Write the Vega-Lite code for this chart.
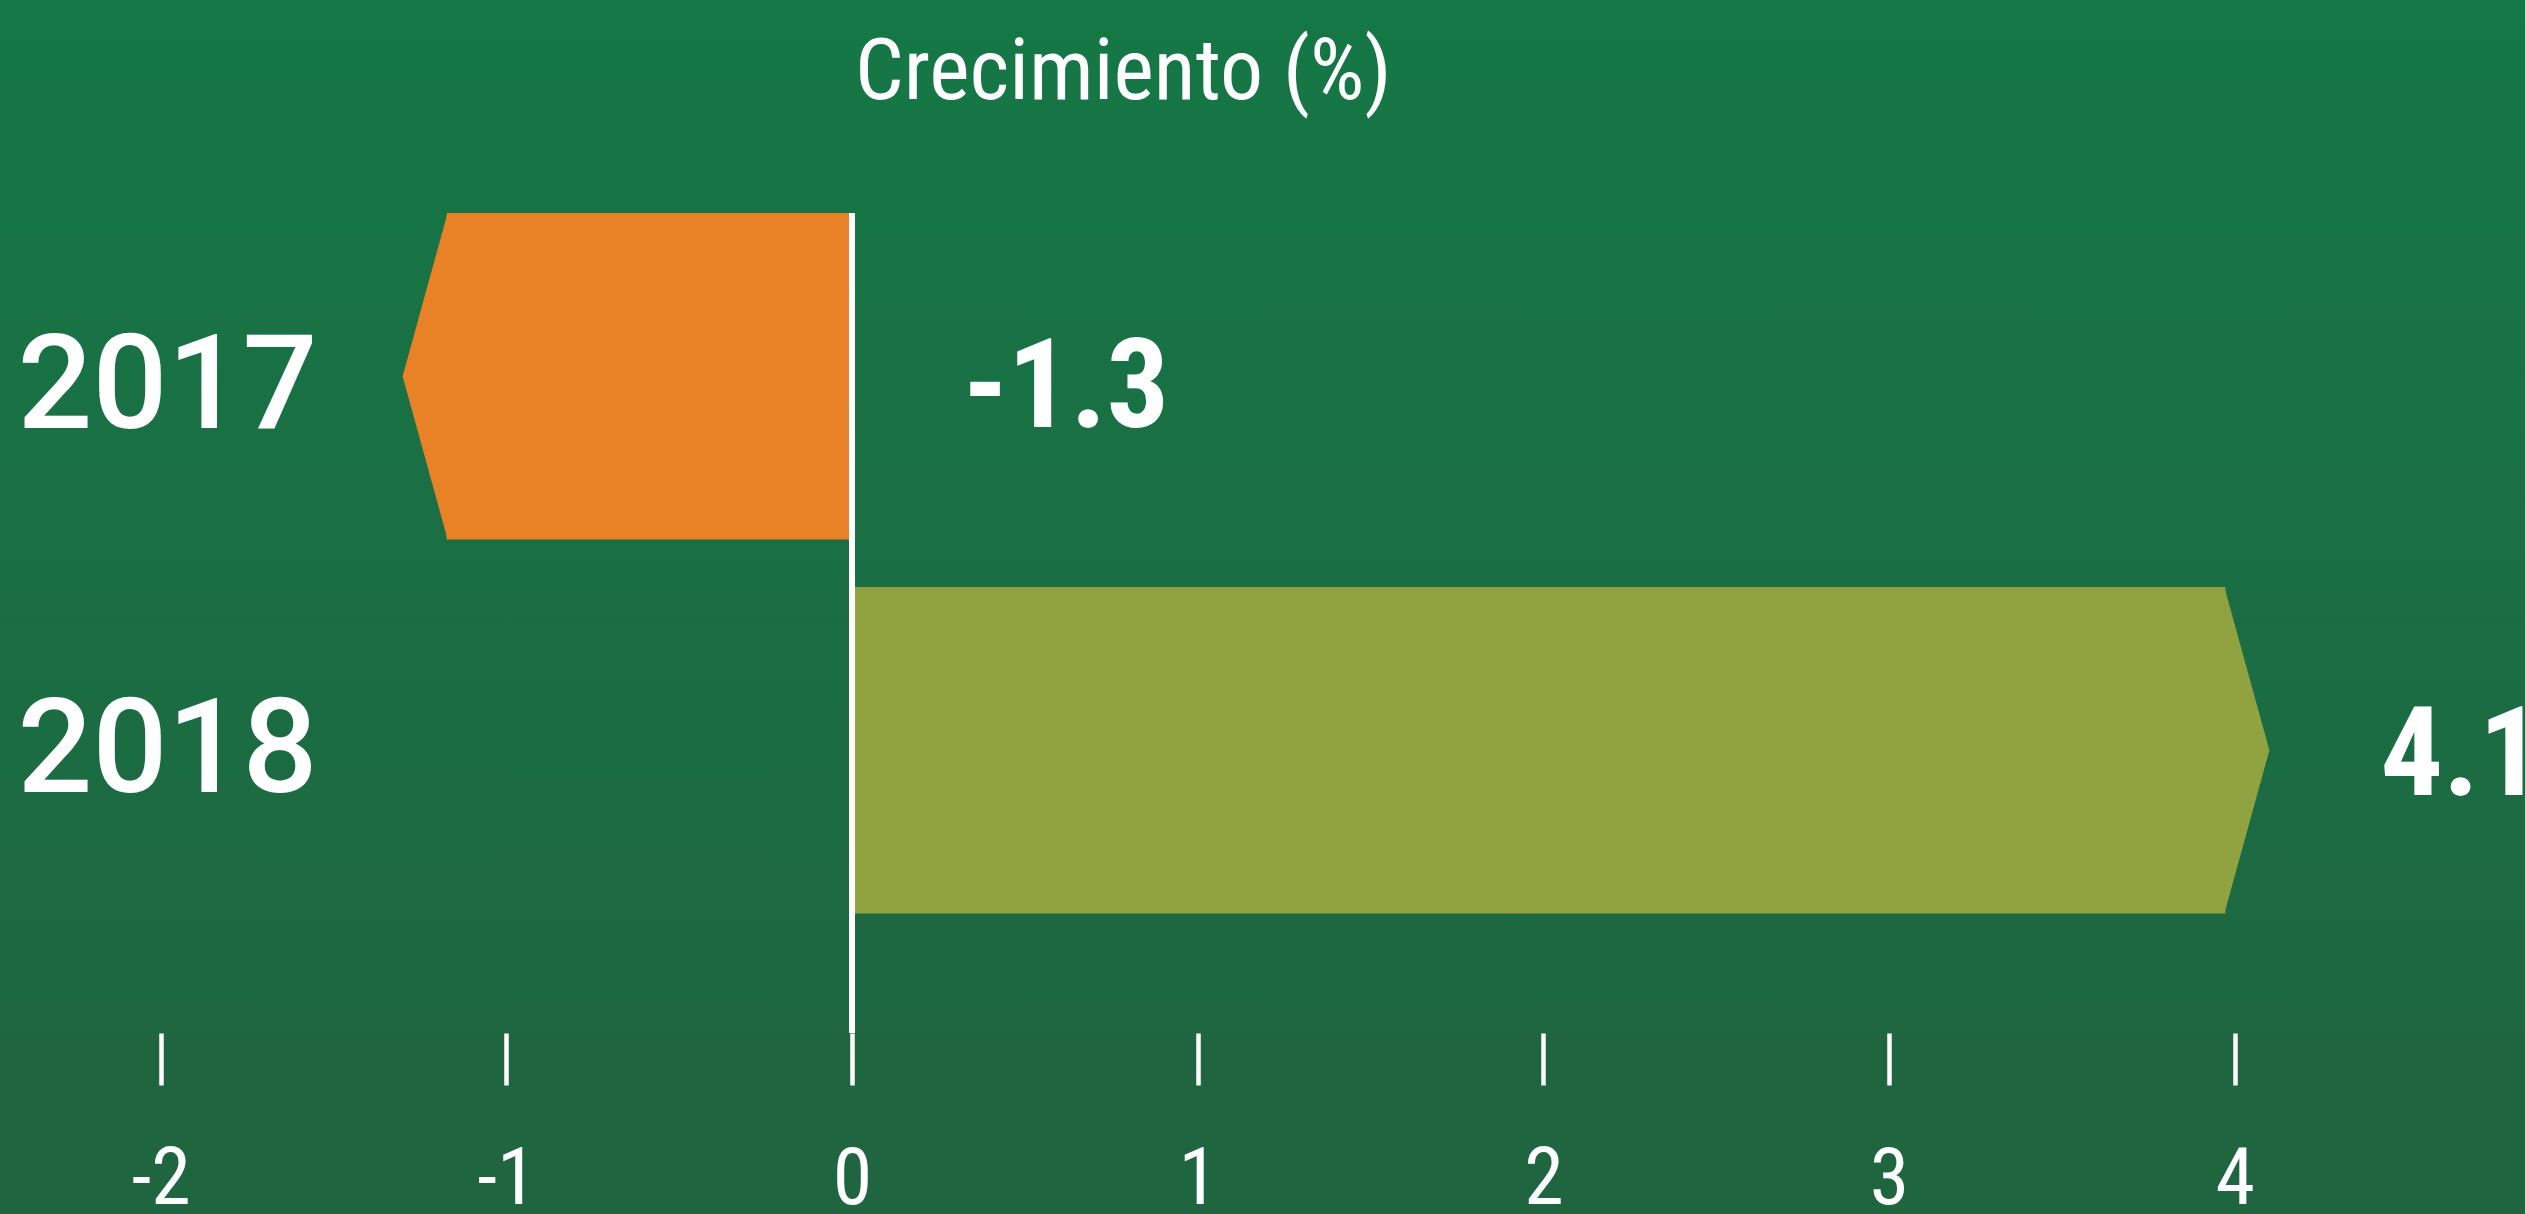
{
  "$schema": "https://vega.github.io/schema/vega-lite/v6.json",
  "width": 2525,
  "height": 1033,
  "autosize": {"type": "none"},
  "padding": {"left": 0, "right": 0, "top": 0, "bottom": 181},
  "background": "#1f6640",
  "config": {
    "view": {
      "stroke": null,
      "fill": {"gradient": "linear", "x1": 0, "y1": 0, "x2": 0, "y2": 1,
        "stops": [{"offset": 0, "color": "#157746"}, {"offset": 1, "color": "#1e6741"}]}
    }
  },
  "title": {
    "text": "Crecimiento (%)",
    "anchor": "start",
    "frame": "group",
    "dx": 855,
    "offset": -185,
    "baseline": "alphabetic",
    "font": "Roboto Condensed, Liberation Sans Narrow, DejaVu Sans Condensed, sans-serif",
    "fontSize": 86,
    "fontWeight": "normal",
    "color": "#ffffff"
  },
  "data": {"values": [
    {"year": "2017", "value": -1.3},
    {"year": "2018", "value": 4.1}
  ]},
  "encoding": {
    "x": {"field": "value", "type": "quantitative",
      "scale": {"domain": [-2.4646, 4.8394], "nice": false, "zero": false},
      "axis": {
        "title": null,
        "values": [-2, -1, 0, 1, 2, 3, 4],
        "domain": false,
        "grid": false,
        "ticks": true,
        "tickSize": 52,
        "tickColor": "#ffffff",
        "tickWidth": 4.5,
        "labelFont": "Roboto Condensed, Liberation Sans Narrow, DejaVu Sans Condensed, sans-serif",
        "labelFontSize": 80,
        "labelColor": "#ffffff",
        "labelPadding": 55,
        "labelFlush": false,
        "labelOverlap": false,
        "labelExpr": "datum.value < 0 ? '-' + abs(datum.value) : '' + datum.value"
      }
    },
    "y": {"field": "year", "type": "nominal", "axis": null,
      "scale": {"type": "band", "domain": ["2017", "2018"], "paddingInner": 0.127, "paddingOuter": 0.4445, "align": 0.6406}}
  },
  "layer": [
    {
      "transform": [{"filter": "datum.value >= 0"}],
      "mark": {"type": "bar", "xOffset": -44, "color": "#91A241"},
      "encoding": {"x2": {"datum": 0}}
    },
    {
      "transform": [{"filter": "datum.value < 0"}],
      "mark": {"type": "bar", "xOffset": 44, "color": "#E98226"},
      "encoding": {"x2": {"datum": 0}}
    },
    {
      "mark": {"type": "point", "filled": true, "opacity": 1, "strokeWidth": 0, "size": 106602},
      "encoding": {
        "shape": {"condition": {"test": "datum.value < 0", "value": "M 0.2757 -1 L 0 0 L 0.2757 1 Z"}, "value": "M -0.2757 -1 L 0 0 L -0.2757 1 Z"},
        "color": {"condition": {"test": "datum.value < 0", "value": "#E98226"}, "value": "#91A241"}
      }
    },
    {
      "mark": {"type": "rule", "color": "#ffffff", "strokeWidth": 6},
      "encoding": {
        "x": {"datum": 0, "type": "quantitative"},
        "y": {"datum": "2017", "bandPosition": 0},
        "y2": {"datum": "2018", "bandPosition": 1.366}
      }
    },
    {
      "transform": [{"filter": "datum.year == '2017'"}],
      "mark": {"type": "text", "font": "Roboto", "fontWeight": 500, "fontSize": 132, "color": "#ffffff", "align": "center", "baseline": "alphabetic", "dy": 52},
      "encoding": {
        "x": {"datum": -1.98, "type": "quantitative"},
        "text": {"field": "year", "type": "nominal"}
      }
    },
    {
      "transform": [{"filter": "datum.year == '2018'"}],
      "mark": {"type": "text", "font": "Roboto", "fontWeight": 500, "fontSize": 132, "color": "#ffffff", "align": "center", "baseline": "alphabetic", "dy": 42},
      "encoding": {
        "x": {"datum": -1.98, "type": "quantitative"},
        "text": {"field": "year", "type": "nominal"}
      }
    },
    {
      "transform": [{"filter": "datum.value < 0"}],
      "mark": {"type": "text", "font": "Roboto Condensed, Liberation Sans Narrow, DejaVu Sans Condensed, sans-serif", "fontWeight": "bold", "fontSize": 124, "color": "#ffffff", "align": "left", "baseline": "alphabetic", "dx": 111, "dy": 51},
      "encoding": {
        "x": {"datum": 0, "type": "quantitative"},
        "text": {"field": "value", "type": "nominal"}
      }
    },
    {
      "transform": [{"filter": "datum.value >= 0"}],
      "mark": {"type": "text", "font": "Roboto Condensed, Liberation Sans Narrow, DejaVu Sans Condensed, sans-serif", "fontWeight": "bold", "fontSize": 124, "color": "#ffffff", "align": "left", "baseline": "alphabetic", "dx": 111, "dy": 45},
      "encoding": {
        "text": {"field": "value", "type": "nominal"}
      }
    }
  ]
}
